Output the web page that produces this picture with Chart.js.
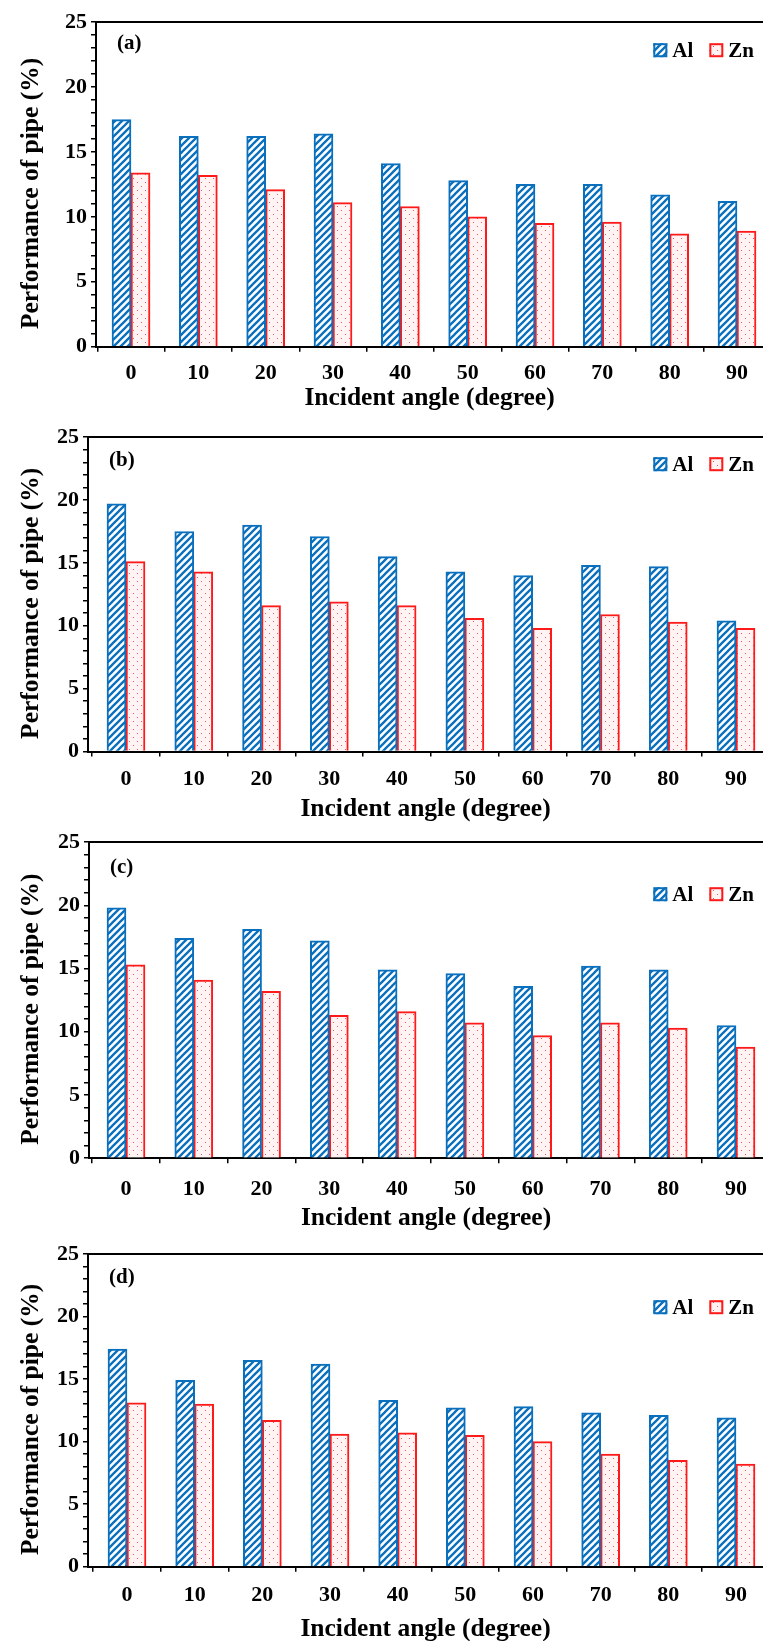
<!DOCTYPE html>
<html><head><meta charset="utf-8">
<script src="https://cdn.jsdelivr.net/npm/chart.js@4.4.0/dist/chart.umd.min.js"></script>
<style>
html,body{margin:0;padding:0;background:#fff;overflow:hidden;width:763px;height:1641px;position:relative;}
.p{position:absolute;left:0;width:763px;}
</style></head><body>
<div class="p" id="w0"><canvas id="c0"></canvas></div>
<div class="p" id="w1"><canvas id="c1"></canvas></div>
<div class="p" id="w2"><canvas id="c2"></canvas></div>
<div class="p" id="w3"><canvas id="c3"></canvas></div>
<script>
// ---- data ----
const angles = [0, 10, 20, 30, 40, 50, 60, 70, 80, 90];
const yTickLabels = [0, 5, 10, 15, 20, 25];
const seriesNames = ['Al', 'Zn'];
const panelLabels = ['(a)', '(b)', '(c)', '(d)'];
const alA = [17.5, 16.2, 16.2, 16.4, 14.1, 12.8, 12.5, 12.5, 11.7, 11.2];
const znA = [13.4, 13.2, 12.1, 11.1, 10.8, 10.0, 9.5, 9.6, 8.7, 8.9];
const alB = [19.7, 17.5, 18.0, 17.1, 15.5, 14.3, 14.0, 14.8, 14.7, 10.4];
const znB = [15.1, 14.3, 11.6, 11.9, 11.6, 10.6, 9.8, 10.9, 10.3, 9.8];
const alC = [19.8, 17.4, 18.1, 17.2, 14.9, 14.6, 13.6, 15.2, 14.9, 10.5];
const znC = [15.3, 14.1, 13.2, 11.3, 11.6, 10.7, 9.7, 10.7, 10.3, 8.8];
const alD = [17.4, 14.9, 16.5, 16.2, 13.3, 12.7, 12.8, 12.3, 12.1, 11.9];
const znD = [13.1, 13.0, 11.7, 10.6, 10.7, 10.5, 10.0, 9.0, 8.5, 8.2];
const xTitle = 'Incident angle (degree)';
const yTitle = 'Performance of pipe (%)';

// ---- layout (pixels) ----
const geom = [
  {axisX: 96, c0: 131, c90: 737, top: 19,    bottom: 346.7,  labelGap: 27,   titleGap: 52,   tagDy: 21, legDy: 28},
  {axisX: 88, c0: 126, c90: 736, top: 434,   bottom: 751.5,  labelGap: 28,   titleGap: 57.5, tagDy: 23, legDy: 27},
  {axisX: 89, c0: 126, c90: 736, top: 839.4, bottom: 1158.6, labelGap: 31,   titleGap: 60.5, tagDy: 25, legDy: 52},
  {axisX: 88, c0: 127, c90: 736, top: 1251,  bottom: 1566.7, labelGap: 28.5, titleGap: 63,   tagDy: 23, legDy: 53}
];
const PADT = 14;
const FAM = '"Liberation Serif", "Times New Roman", serif';
const BLUE = '#0a70bd';
const RED = '#ff1a1a';
const TITLE_SIZE = 25.5;
const TICK_SIZE = 22;
const Y_TITLE_X = 31;
const Y_TITLE_SHIFT = 9;

function hatchPattern() {
  const s = 7, c = document.createElement('canvas');
  c.width = s; c.height = s;
  const g = c.getContext('2d');
  g.fillStyle = '#ffffff'; g.fillRect(0, 0, s, s);
  g.strokeStyle = BLUE; g.lineWidth = 2.3;
  g.beginPath();
  g.moveTo(-1, s + 1); g.lineTo(s + 1, -1);
  g.moveTo(-2, 2); g.lineTo(2, -2);
  g.moveTo(s - 2, s + 2); g.lineTo(s + 2, s - 2);
  g.stroke();
  return g.createPattern(c, 'repeat');
}
function dotPattern() {
  const s = 8, c = document.createElement('canvas');
  c.width = s; c.height = s;
  const g = c.getContext('2d');
  g.fillStyle = '#fff3f3'; g.fillRect(0, 0, s, s);
  g.fillStyle = 'rgba(230,40,40,0.75)';
  g.fillRect(1, 1, 1, 1);
  g.fillRect(5, 5, 1, 1);
  return g.createPattern(c, 'repeat');
}

// panel tag "(a)" etc. and rotated y-axis title
const panelLabelPlugin = {
  id: 'panelLabel',
  afterDraw(chart, args, opts) {
    const {ctx, chartArea} = chart;
    ctx.save();
    ctx.font = 'bold 21px ' + FAM;
    ctx.fillStyle = '#000';
    ctx.textBaseline = 'middle';
    ctx.textAlign = 'left';
    ctx.fillText(opts.text, chartArea.left + 21, chartArea.top + opts.dy);
    ctx.restore();
    ctx.save();
    ctx.font = 'bold ' + TITLE_SIZE + 'px ' + FAM;
    ctx.fillStyle = '#000';
    ctx.textBaseline = 'middle';
    ctx.textAlign = 'center';
    ctx.translate(Y_TITLE_X, (chartArea.top + chartArea.bottom) / 2 + Y_TITLE_SHIFT);
    ctx.rotate(-Math.PI / 2);
    ctx.fillText(opts.yTitle, 0, 0);
    ctx.restore();
  }
};

// legend drawn from the chart's own datasets, inside the plot, top right
const insideLegendPlugin = {
  id: 'insideLegend',
  afterDraw(chart, args, opts) {
    const {ctx, chartArea} = chart;
    const box = 14, gap = 5, itemGap = 16;
    ctx.save();
    ctx.font = 'bold 21px ' + FAM;
    ctx.textBaseline = 'middle';
    ctx.textAlign = 'left';
    const ds = chart.data.datasets;
    const widths = ds.map(d => box + gap + ctx.measureText(d.label).width);
    const total = widths.reduce((a, b) => a + b, 0) + itemGap * (ds.length - 1);
    let x = opts.right - total;
    const y = chartArea.top + opts.dy;
    ds.forEach((d, k) => {
      ctx.fillStyle = d.backgroundColor;
      ctx.fillRect(x, y - box / 2, box, box);
      ctx.strokeStyle = d.borderColor;
      ctx.lineWidth = 2;
      ctx.strokeRect(x + 1, y - box / 2 + 1, box - 2, box - 2);
      ctx.fillStyle = '#000';
      ctx.fillText(d.label, x + box + gap, y + 1);
      x += widths[k] + itemGap;
    });
    ctx.restore();
  }
};

const allData = [[alA, znA], [alB, znB], [alC, znC], [alD, znD]];
const font = (size) => ({family: FAM, weight: 'bold', size: size});

allData.forEach((pair, i) => {
  const g = geom[i];
  const ppu = (g.c90 - g.c0) / 90;
  const xmin = -(g.c0 - g.axisX) / ppu;
  const xmax = (763 - g.c0) / ppu;
  const titleLH = TITLE_SIZE * 1.2;
  const Hx = g.titleGap + titleLH / 2 + 2;
  const plotH = g.bottom - g.top;
  const wrap = document.getElementById('w' + i);
  wrap.style.top = (g.top - PADT) + 'px';
  wrap.style.height = (PADT + plotH + Hx) + 'px';
  const tickLH = TICK_SIZE * 1.2;
  new Chart(document.getElementById('c' + i), {
    type: 'bar',
    data: {
      datasets: [
        {label: seriesNames[0], data: angles.map((a, k) => ({x: a, y: pair[0][k]})),
         backgroundColor: hatchPattern(), borderColor: BLUE, borderWidth: 2, barThickness: 19},
        {label: seriesNames[1], data: angles.map((a, k) => ({x: a, y: pair[1][k]})),
         backgroundColor: dotPattern(), borderColor: RED, borderWidth: 2, barThickness: 19}
      ]
    },
    plugins: [panelLabelPlugin, insideLegendPlugin],
    options: {
      responsive: true, maintainAspectRatio: false, animation: false,
      layout: {padding: {top: PADT, left: 0, right: 0, bottom: 0}},
      scales: {
        x: {
          type: 'linear', position: 'bottom', min: xmin, max: xmax, offset: false,
          ticks: {stepSize: 10, includeBounds: false, autoSkip: false, maxRotation: 0,
                  color: '#000', font: font(TICK_SIZE), padding: g.labelGap - 5 - tickLH / 2},
          grid: {display: true, drawOnChartArea: false, drawTicks: true, tickLength: 5, color: '#000', lineWidth: 1.5},
          border: {display: true, color: '#000', width: 2},
          title: {display: true, text: xTitle, color: '#000', font: font(TITLE_SIZE), padding: {top: 0, bottom: 2}},
          afterFit: (s) => { s.height = Hx; }
        },
        xTop: {
          type: 'linear', position: 'top', min: xmin, max: xmax, display: true,
          ticks: {display: false}, grid: {display: false, drawTicks: false},
          border: {display: true, color: '#000', width: 2},
          afterFit: (s) => { s.height = 0; }
        },
        y: {
          min: 0, max: 25,
          ticks: {stepSize: 1, autoSkip: false, color: '#000', font: font(TICK_SIZE), padding: 4,
                  callback: (v) => yTickLabels.includes(v) ? String(v) : ''},
          grid: {display: true, drawOnChartArea: false, drawTicks: true, tickLength: 5, color: '#000', lineWidth: 1.5},
          border: {display: true, color: '#000', width: 2},
          title: {display: false},
          afterFit: (s) => { s.width = g.axisX; }
        }
      },
      plugins: {
        legend: {display: false},
        tooltip: {enabled: false},
        panelLabel: {text: panelLabels[i], dy: g.tagDy, yTitle: yTitle},
        insideLegend: {right: 754, dy: g.legDy}
      }
    }
  });
});
</script>
</body></html>
